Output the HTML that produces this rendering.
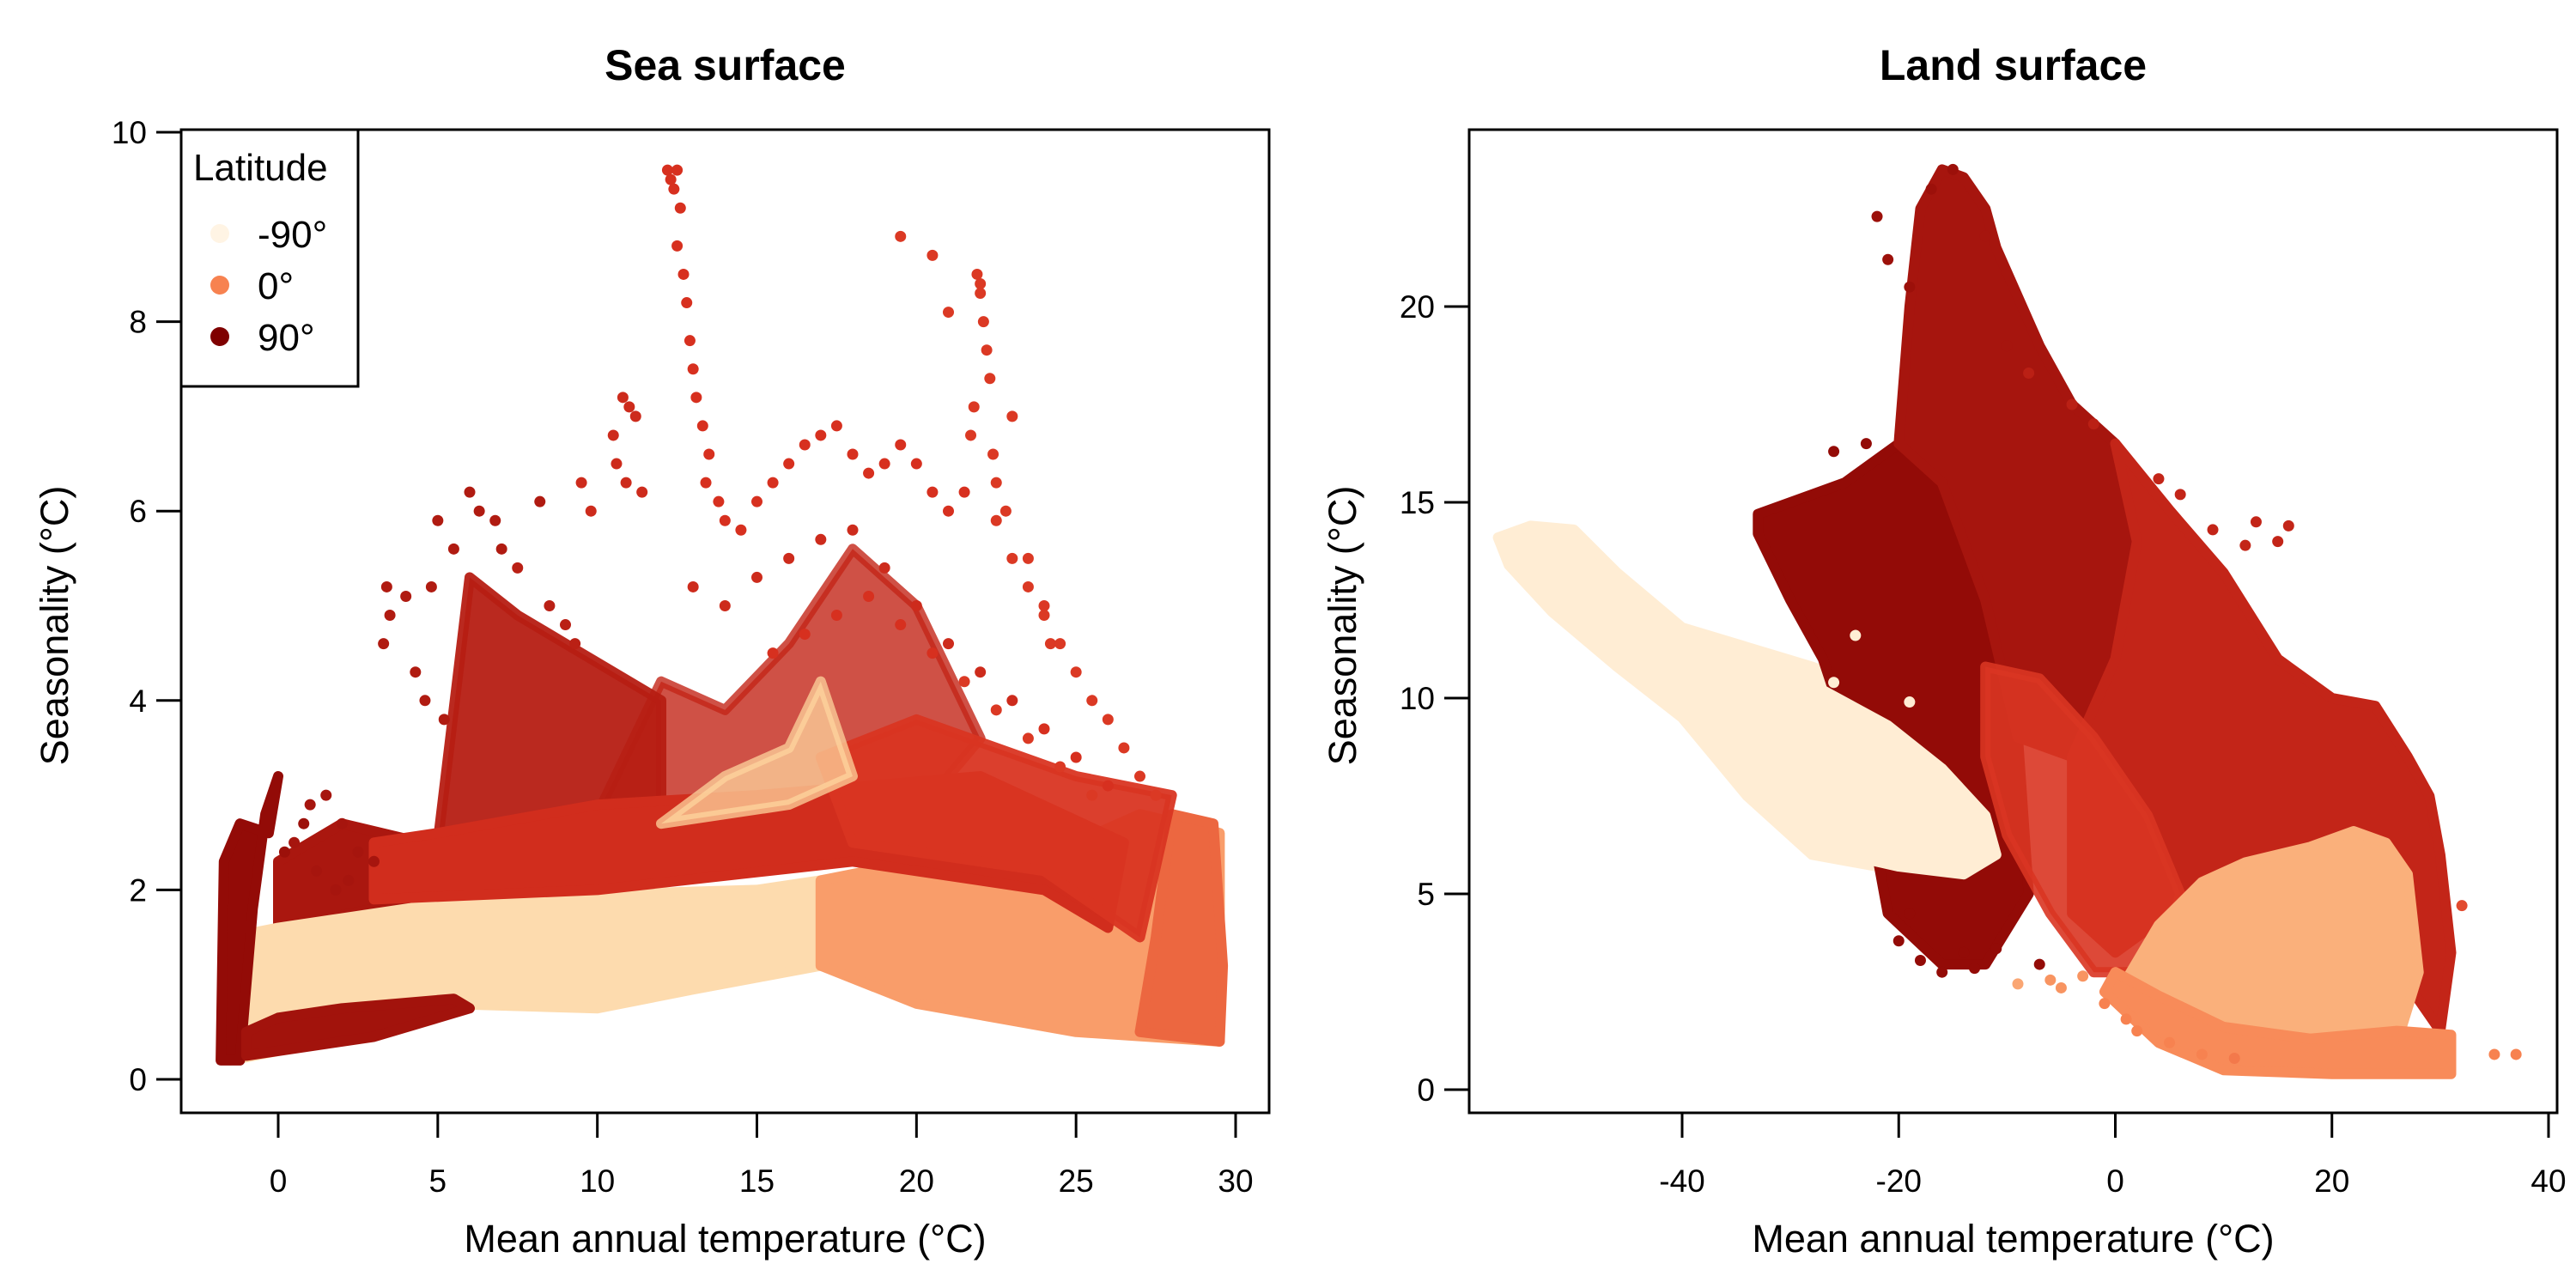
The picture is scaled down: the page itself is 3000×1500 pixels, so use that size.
<!DOCTYPE html>
<html><head><meta charset="utf-8"><style>
html,body{margin:0;padding:0;background:#fff}
svg{display:block}
text{font-family:"Liberation Sans",Arial,sans-serif;fill:#000}
</style></head><body>
<svg id="chart" width="3000" height="1500" viewBox="0 0 3000 1500" xmlns="http://www.w3.org/2000/svg">
<g id="sea"></g>
<g id="land"></g>
</svg>
<script>
// ---- Sea data (x = mean annual temp, y = seasonality, lat = latitude) ----
const seaXTicks = [0,5,10,15,20,25,30];
const seaYTicks = [0,2,4,6,8,10];
const seaRegionLat = [55, 62, 68, -55, -15, 15, 80, 72, 48, 42, -45];
const seaRegionOpacity = [0.8, 0.95, 1, 1, 1, 1, 1, 1, 1, 0.95, 0.75];
const seaRegions = [
 [10,2.8, 12,4.2, 14,3.9, 16,4.6, 18,5.6, 20,5.0, 22,3.6, 20,2.8],
 [5,2.5, 6,5.3, 7.5,4.9, 9,4.6, 12,4.0, 12,2.8, 8,2.6],
 [0,1.6, 3,1.8, 4,1.2, 4.5,2.5, 2,2.7, 0,2.3],
 [-1.5,0.2, 0,0.3, 5,0.8, 10,0.75, 13,0.95, 17,1.2, 19,1.0, 19,2.2, 15,2.0, 10,1.95, 5,1.85, 2,1.7, 0,1.6, -1.5,1.5],
 [17,1.2, 20,0.8, 25,0.5, 29.5,0.4, 29.5,2.6, 27,2.8, 25,2.5, 20,2.3, 17,2.1],
 [27,0.5, 29.5,0.4, 29.6,1.2, 29.3,2.7, 28,2.8, 27.5,1.5],
 [-1.8,0.2, -1.2,0.2, -0.8,1.8, -0.4,2.8, 0,3.2, -0.3,2.6, -1.2,2.7, -1.7,2.3],
 [-1,0.25, 3,0.45, 6,0.75, 5.5,0.85, 2,0.75, 0,0.65, -1,0.5],
 [3,1.9, 10,2.0, 18,2.3, 24,2.0, 26,1.6, 26.5,2.5, 22,3.2, 15,3.0, 10,2.9, 5,2.6, 3,2.5],
 [18,2.5, 24,2.2, 27,1.5, 28,3.0, 25,3.2, 20,3.8, 17,3.4],
 [12,2.7, 14,3.2, 16,3.5, 17,4.2, 18,3.2, 16,2.9]
];
const seaPtX = [12.2,12.3,12.4,12.5,12.6,12.5,12.7,12.8,12.9,13.0,13.1,13.3,13.5,13.4,13.8,14.0,10.8,11.0,11.2,10.5,10.6,10.9,11.4,9.8,9.5,
 21.9,22.0,22.1,22.2,22.3,21.8,21.7,22.4,22.5,23.0,22.8,23.5,24.0,24.2,19.5,20.5,21.0,22.0,
 6.0,6.3,6.8,7.0,8.2,5.0,5.5,4.8,4.0,3.5,3.4,3.3,4.3,4.6,5.2,7.5,8.5,9.0,9.3,
 14.5,15.0,15.5,16.0,16.5,17.0,17.5,18.0,18.5,19.0,19.5,20.0,20.5,21.0,21.5,22.5,23.0,23.5,24.0,24.5,25.0,25.5,26.0,26.5,27.0,27.5,
 13.0,14.0,15.0,16.0,17.0,18.0,19.0,20.0,21.0,22.0,23.0,24.0,25.0,26.0,
 15.5,16.5,17.5,18.5,19.5,20.5,21.5,22.5,23.5,24.5,25.5,
 0.5,1.0,1.5,2.0,2.5,3.0,1.2,1.8,2.2,0.2,0.8];
const seaPtY = [9.6,9.5,9.4,9.6,9.2,8.8,8.5,8.2,7.8,7.5,7.2,6.9,6.6,6.3,6.1,5.9,7.2,7.1,7.0,6.8,6.5,6.3,6.2,6.0,6.3,
 8.5,8.3,8.0,7.7,7.4,7.1,6.8,6.6,6.3,7.0,6.0,5.5,5.0,4.6,8.9,8.7,8.1,8.4,
 6.2,6.0,5.9,5.6,6.1,5.9,5.6,5.2,5.1,4.9,5.2,4.6,4.3,4.0,3.8,5.4,5.0,4.8,4.6,
 5.8,6.1,6.3,6.5,6.7,6.8,6.9,6.6,6.4,6.5,6.7,6.5,6.2,6.0,6.2,5.9,5.5,5.2,4.9,4.6,4.3,4.0,3.8,3.5,3.2,3.0,
 5.2,5.0,5.3,5.5,5.7,5.8,5.4,5.0,4.6,4.3,4.0,3.7,3.4,3.1,
 4.5,4.7,4.9,5.1,4.8,4.5,4.2,3.9,3.6,3.3,3.0,
 2.5,2.9,3.0,2.7,2.4,2.3,2.2,2.0,2.1,2.4,2.7];
const seaPtLat = [45,45,45,45,45,45,45,45,45,45,45,45,45,45,45,45,50,50,50,50,50,50,50,50,50,
 40,40,40,40,40,40,40,40,40,40,40,40,40,40,40,40,40,40,
 65,65,65,65,65,65,65,65,65,65,65,65,65,65,65,60,60,60,60,
 45,45,45,45,45,45,45,45,45,45,45,45,45,45,45,40,40,40,40,40,40,40,40,40,40,40,
 50,50,50,50,50,50,50,50,50,50,50,45,45,45,
 45,45,45,45,45,45,40,40,40,40,40,
 70,70,70,70,70,70,70,70,70,75,75];

// ---- Land data ----
const landXTicks = [-40,-20,0,20,40];
const landYTicks = [0,5,10,15,20];
const landRegionLat = [-80, 80, -80, 70, 55, 42, -25, -5];
const landRegionOpacity = [1, 1, 1, 1, 1, 0.9, 1, 1];
const landRegions = [
 [-57,14.1, -54,14.4, -50,14.3, -46,13.2, -40,11.8, -34,11.3, -28,10.8, -22,10.2, -17,8.5, -12,7.0, -11,6.0, -14,5.4, -20,5.6, -28,6.0, -34,7.5, -40,9.5, -46,10.8, -52,12.2, -56,13.4],
 [-33,14.7, -28,15.2, -25,15.5, -20,16.5, -16,15.5, -12,12.5, -9,9, -8,5, -12,3.2, -16,3.2, -21,4.5, -22,6, -24,8.5, -27,11, -30,12.5, -33,14.2],
 [-28,6.2, -20,5.7, -14,5.5, -11,6.0, -12,7.0, -16,8.2, -21,9.3, -27,10.2],
 [-20,16.5, -19,20, -18,22.5, -16,23.5, -14,23.3, -12,22.5, -11,21.5, -7,19, -4,17.5, 0,16.5, 2,14, 0,11, -4,8.5, -9,9, -12,12.5, -16,15.5],
 [0,16.5, 5,14.8, 10,13.2, 15,11, 20,10, 24,9.8, 27,8.5, 29,7.5, 30,6, 31,3.5, 30,1.5, 25,3.5, 20,5.5, 10,5, 5,4.5, 0,3.5, -4,4.5, -4,8.5, 0,11, 2,14],
 [-12,10.8, -7,10.5, -2,9, 3,7, 6,5, 4,3, -2,3, -6,4.5, -10,6.5, -12,8.5],
 [8,5.3, 12,5.8, 18,6.2, 22,6.6, 25,6.3, 27,5.5, 28,3, 26,1.2, 18,1.0, 10,1.5, 3,2.0, 1,2.8, 4,4.2],
 [-1,2.5, 4,1.2, 10,0.5, 20,0.4, 31,0.4, 31,1.4, 26,1.5, 18,1.3, 10,1.6, 4,2.4, 0,3.0]
];
const landPtX = [35,37,32,-26,-23,-21,-22,-15,-17,-19,-12,-10,-8,-4,-2,4,6,9,12,13,15,16,-20,-19,-18,-16,-14,-13,-11,-9,-7,-6,-5,-3,1,2,-1,5,8,11,-25,-23,-21,-19,-26,-24];
const landPtY = [0.9,0.9,4.7,16.3,16.5,21.2,22.3,23.5,23.0,20.5,21.8,19,18.3,17.5,17.0,15.6,15.2,14.3,13.9,14.5,14.0,14.4,3.8,4.5,3.3,3.0,3.5,3.1,3.6,2.7,3.2,2.8,2.6,2.9,1.8,1.5,2.2,1.2,0.9,0.8,9.5,8.8,8.0,9.9,10.4,11.6];
const landPtLat = [0,0,30,80,80,75,75,75,75,75,70,70,60,60,60,55,55,55,55,55,55,55,80,80,80,80,80,80,80,-20,80,-10,-10,-10,0,0,0,0,0,5,-80,-80,-80,-80,-80,-80];

function latColor(l){
  const stops=[[-90,[255,244,228]],[-45,[253,212,158]],[0,[247,130,80]],[45,[215,48,31]],[90,[127,0,0]]];
  for(let i=0;i<stops.length-1;i++){
    const a=stops[i],b=stops[i+1];
    if(l<=b[0]){const t=(l-a[0])/(b[0]-a[0]);const c=a[1].map((v,k)=>Math.round(v+(b[1][k]-v)*t));return `rgb(${c[0]},${c[1]},${c[2]})`;}
  }
  return 'rgb(127,0,0)';
}
const NS='http://www.w3.org/2000/svg';
function mk(tag,attrs,parent){const e=document.createElementNS(NS,tag);for(const k in attrs)e.setAttribute(k,attrs[k]);parent.appendChild(e);return e;}

function panel(g,opt){
  const L=opt.left,R=opt.right,T=151,B=1296;
  const sx=v=>opt.x0px+(v-opt.xa)*(opt.x1px-opt.x0px)/(opt.xb-opt.xa);
  const sy=v=>opt.y0px-(v-opt.ya)*(opt.y0px-opt.y1px)/(opt.yb-opt.ya);
  const clipId=opt.key+'-clip';
  const defs=mk('defs',{},g);
  const cp=mk('clipPath',{id:clipId},defs);
  mk('rect',{x:L,y:T,width:R-L,height:B-T},cp);
  const marks=mk('g',{'clip-path':`url(#${clipId})`},g);
  
  
  opt.regions.forEach((r,i)=>{
    const pts=[];for(let j=0;j<r.length;j+=2)pts.push(sx(r[j]).toFixed(1)+','+sy(r[j+1]).toFixed(1));
    const p=mk('polygon',{points:pts.join(' '),fill:latColor(opt.regionLat[i]),'fill-opacity':opt.regionOpacity[i],stroke:latColor(opt.regionLat[i]),'stroke-width':12,'stroke-linejoin':'round','stroke-opacity':opt.regionOpacity[i]},marks);
    
    
  });
  opt.ptX.forEach((x,i)=>{
    const c=mk('circle',{cx:sx(x),cy:sy(opt.ptY[i]),r:6.5,fill:latColor(opt.ptLat[i])},marks);
    
    
  });
  const box=mk('rect',{x:L,y:T,width:R-L,height:B-T,fill:'none',stroke:'#000','stroke-width':3},g);
  
  
  const xa=mk('g',{},g);
  
  
  mk('line',{x1:sx(opt.xTicks[0]),x2:sx(opt.xTicks[opt.xTicks.length-1]),y1:B,y2:B,stroke:'#000','stroke-width':3},xa);
  opt.xTicks.forEach(v=>{
    mk('line',{x1:sx(v),x2:sx(v),y1:B,y2:B+29,stroke:'#000','stroke-width':3},xa);
    const t=mk('text',{x:sx(v),y:1388,'font-size':37,'text-anchor':'middle'},xa);t.textContent=v;
    
    
  });
  const ya=mk('g',{},g);
  
  
  mk('line',{x1:L,x2:L,y1:sy(opt.yTicks[0]),y2:sy(opt.yTicks[opt.yTicks.length-1]),stroke:'#000','stroke-width':3},ya);
  opt.yTicks.forEach(v=>{
    mk('line',{x1:L-29,x2:L,y1:sy(v),y2:sy(v),stroke:'#000','stroke-width':3},ya);
    const t=mk('text',{x:L-40,y:sy(v)+13,'font-size':37,'text-anchor':'end'},ya);t.textContent=v;
    
    
  });
  const xt=mk('text',{x:(L+R)/2,y:1458,'font-size':45,'text-anchor':'middle'},g);xt.textContent='Mean annual temperature (°C)';
  
  
  const cy=(T+B)/2+5;
  const yt=mk('text',{x:L-132,y:cy,'font-size':45,'text-anchor':'middle',transform:`rotate(-90 ${L-132} ${cy})`},g);yt.textContent='Seasonality (°C)';
  
  
  const ti=mk('text',{x:(L+R)/2,y:93,'font-size':50,'font-weight':'bold','text-anchor':'middle'},g);ti.textContent=opt.title;
  
  
}

panel(document.getElementById('sea'),{key:'sea',title:'Sea surface',left:211,right:1478,
  xa:0,xb:30,x0px:324,x1px:1439,ya:0,yb:10,y0px:1257,y1px:154,
  xTicks:seaXTicks,yTicks:seaYTicks,regions:seaRegions,regionLat:seaRegionLat,regionOpacity:seaRegionOpacity,
  ptX:seaPtX,ptY:seaPtY,ptLat:seaPtLat});
panel(document.getElementById('land'),{key:'land',title:'Land surface',left:1711,right:2978,
  xa:-40,xb:40,x0px:1959,x1px:2968,ya:0,yb:20,y0px:1269,y1px:357,
  xTicks:landXTicks,yTicks:landYTicks,regions:landRegions,regionLat:landRegionLat,regionOpacity:landRegionOpacity,
  ptX:landPtX,ptY:landPtY,ptLat:landPtLat});

const sea=document.getElementById('sea');
const lg=mk('g',{},sea);


mk('rect',{x:211,y:151,width:206,height:299,fill:'#fff',stroke:'#000','stroke-width':3},lg);
const lt=mk('text',{x:225,y:210,'font-size':44},lg);lt.textContent='Latitude';


const legendLats=[-90,0,90];
legendLats.forEach((l,i)=>{
  const y=272+i*60;
  const c=mk('circle',{cx:256,cy:y,r:11,fill:latColor(l)},lg);
  
  
  const t=mk('text',{x:300,y:y+16,'font-size':44},lg);t.textContent=l+'°';
  
  
});
</script>
</body></html>
